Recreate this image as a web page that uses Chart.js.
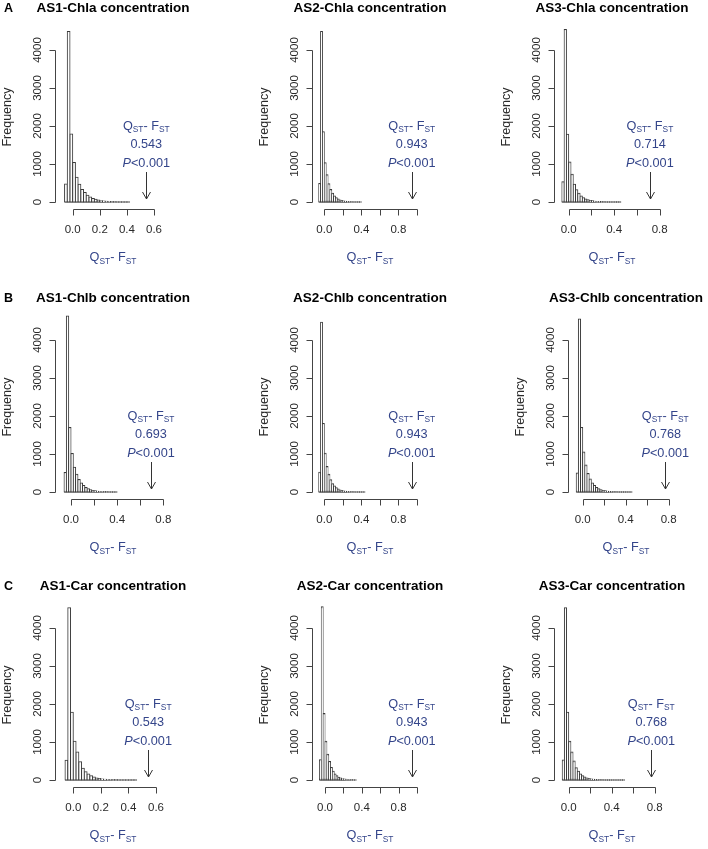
<!DOCTYPE html>
<html>
<head>
<meta charset="utf-8">
<script src="https://cdn.jsdelivr.net/npm/chart.js@4.4.1/dist/chart.umd.min.js"></script>
<style>
  html, body { margin: 0; padding: 0; background: #fff; }
  body { width: 708px; height: 849px; position: relative; overflow: hidden; }
  canvas { position: absolute; }
</style>
</head>
<body>
<script>
// ---- data ----
const titles = [
  'AS1-Chla concentration', 'AS2-Chla concentration', 'AS3-Chla concentration',
  'AS1-Chlb concentration', 'AS2-Chlb concentration', 'AS3-Chlb concentration',
  'AS1-Car concentration', 'AS2-Car concentration', 'AS3-Car concentration',
];
const rowLetters = ['A', 'B', 'C'];

// histogram bins: first bin starts at -0.06, each bin 0.02 wide
const binStart = -0.06;
const binWidth = 0.02;

const countsAS1Chla = [474, 4490, 1790, 1040, 650, 470, 330, 250, 180, 130, 95, 70, 50, 35, 25, 18, 10, 6, 4, 3, 2, 1, 1, 1];
const countsAS2Chla = [490, 4490, 1850, 1030, 720, 480, 330, 230, 160, 115, 80, 55, 40, 28, 20, 13, 8, 5, 3, 2, 1, 1, 1];
const countsAS3Chla = [530, 4540, 1780, 1050, 730, 470, 320, 230, 160, 110, 80, 60, 40, 30, 20, 14, 10, 6, 4, 3, 2, 1, 1, 1, 1, 1];
const countsAS1Chlb = [510, 4630, 1700, 1010, 650, 470, 330, 240, 170, 120, 85, 60, 42, 30, 20, 14, 9, 6, 4, 3, 2, 1, 1];
const countsAS2Chlb = [520, 4470, 1800, 1020, 670, 470, 320, 220, 160, 110, 80, 55, 40, 28, 20, 14, 9, 6, 4, 3, 2, 1, 1, 1, 1];
const countsAS3Chlb = [500, 4550, 1700, 1050, 710, 490, 340, 240, 170, 120, 85, 60, 42, 30, 20, 14, 9, 6, 4, 3, 2, 1, 1, 1, 1, 1];
const countsAS1Car = [520, 4530, 1780, 1020, 740, 480, 310, 220, 160, 110, 80, 55, 40, 28, 20, 14, 9, 6, 4, 3, 2, 1, 1, 1, 1, 1];
const countsAS2Car = [530, 4560, 1750, 1020, 680, 490, 330, 230, 160, 110, 75, 52, 36, 25, 17, 11, 7, 4, 2, 1];
const countsAS3Car = [525, 4530, 1780, 1020, 740, 500, 320, 230, 160, 110, 80, 55, 40, 28, 20, 14, 9, 6, 4, 3, 2, 1, 1, 1, 1, 1, 1, 1, 1];

// observed QST - FST (arrow positions)
const observed = [0.543, 0.943, 0.714, 0.693, 0.943, 0.768, 0.543, 0.943, 0.768];

const yTicks = [0, 1000, 2000, 3000, 4000];
const xTicks06 = [0, 0.2, 0.4, 0.6];
const xTicks08 = [0, 0.2, 0.4, 0.6, 0.8];
const xTicks10 = [0, 0.2, 0.4, 0.6, 0.8, 1.0];
const xLabelsAll = [0, 0.2, 0.4, 0.6];
const xLabelsEvery2 = [0, 0.4, 0.8];

// ---- layout (pixels in the page) ----
// ax: x of the y axis line, y0: pixel of count 0, x0: pixel of value 0.0, ppu: px per unit
const panelLayout = [
  { ax: 55, y0: 202, x0: 72.7, ppu: 135.5 },
  { ax: 312, y0: 202, x0: 324.3, ppu: 92.7 },
  { ax: 554, y0: 202, x0: 568.7, ppu: 113.75 },
  { ax: 55, y0: 492, x0: 71, ppu: 115.4 },
  { ax: 312, y0: 492, x0: 324.3, ppu: 92.7 },
  { ax: 568, y0: 492, x0: 582.7, ppu: 107.5 },
  { ax: 55, y0: 780, x0: 73.3, ppu: 137.8 },
  { ax: 312, y0: 780, x0: 325, ppu: 92 },
  { ax: 554, y0: 780, x0: 568.7, ppu: 107.5 },
];

const panelCounts = [countsAS1Chla, countsAS2Chla, countsAS3Chla, countsAS1Chlb, countsAS2Chlb, countsAS3Chlb, countsAS1Car, countsAS2Car, countsAS3Car];
const panelTicks = [xTicks06, xTicks10, xTicks08, xTicks08, xTicks10, xTicks08, xTicks06, xTicks10, xTicks08];
const panelLabels = [xLabelsAll, xLabelsEvery2, xLabelsEvery2, xLabelsEvery2, xLabelsEvery2, xLabelsEvery2, xLabelsAll, xLabelsEvery2, xLabelsEvery2];

const CW = 236, CH = 289;
const AREA_W = 114;
const Y_MIN = -190, Y_MAX = 4690, Y_PX = 0.038;
const FONT = '"Liberation Sans", Arial, Helvetica, sans-serif';
const BLUE = '#34458a';
const AXIS = '#444';
const TXT = '#2a2a2a';

function drawQF(ctx, cx, cy, size) {
  const sub = size * 0.66;
  const parts = [['Q', size, 0], ['ST', sub, 0.3], ['- F', size, 0], ['ST', sub, 0.3]];
  let w = 0;
  parts.forEach((p) => { ctx.font = p[1] + 'px ' + FONT; w += ctx.measureText(p[0]).width; });
  let x = cx - w / 2;
  ctx.textAlign = 'left';
  ctx.textBaseline = 'middle';
  parts.forEach((p) => {
    ctx.font = p[1] + 'px ' + FONT;
    ctx.fillText(p[0], x, cy + p[2] * size);
    x += ctx.measureText(p[0]).width;
  });
}

const rAxes = {
  id: 'rAxes',
  afterDraw(chart, args, o) {
    const { ctx, chartArea: a, scales: { x, y } } = chart;
    const zy = y.getPixelForValue(0);
    const cx = a.left + 58;
    ctx.save();
    ctx.lineWidth = 1;
    ctx.strokeStyle = AXIS;
    ctx.fillStyle = TXT;

    // y axis
    const lx = Math.round(a.left) + 0.5;
    ctx.beginPath();
    ctx.moveTo(lx, Math.round(y.getPixelForValue(yTicks[0])) + 0.5);
    ctx.lineTo(lx, Math.round(y.getPixelForValue(yTicks[yTicks.length - 1])) + 0.5);
    yTicks.forEach((t) => {
      const py = Math.round(y.getPixelForValue(t)) + 0.5;
      ctx.moveTo(lx, py);
      ctx.lineTo(lx - 6, py);
    });
    ctx.stroke();
    ctx.font = '11.5px ' + FONT;
    ctx.textAlign = 'center';
    ctx.textBaseline = 'middle';
    yTicks.forEach((t) => {
      ctx.save();
      ctx.translate(a.left - 17.5, y.getPixelForValue(t));
      ctx.rotate(-Math.PI / 2);
      ctx.fillText(String(t), 0, 0);
      ctx.restore();
    });
    ctx.save();
    ctx.font = '12.5px ' + FONT;
    ctx.translate(a.left - 47, zy - 85);
    ctx.rotate(-Math.PI / 2);
    ctx.fillText('Frequency', 0, 0);
    ctx.restore();

    // x axis
    const by = Math.round(a.bottom) + 0.5;
    ctx.beginPath();
    ctx.moveTo(Math.round(x.getPixelForValue(o.ticks[0])) + 0.5, by);
    ctx.lineTo(Math.round(x.getPixelForValue(o.ticks[o.ticks.length - 1])) + 0.5, by);
    o.ticks.forEach((t) => {
      const px = Math.round(x.getPixelForValue(t)) + 0.5;
      ctx.moveTo(px, by);
      ctx.lineTo(px, by + 6);
    });
    ctx.stroke();
    ctx.font = '11.5px ' + FONT;
    o.labels.forEach((t) => {
      ctx.fillText(t.toFixed(1), x.getPixelForValue(t), zy + 28.3);
    });

    // title and row letter
    ctx.fillStyle = '#000';
    ctx.font = 'bold 13.5px ' + FONT;
    ctx.fillText(o.title, cx, zy - 193.5);
    if (o.letter) {
      ctx.textAlign = 'left';
      ctx.font = 'bold 12.5px ' + FONT;
      ctx.fillText(o.letter, 4 - chart.canvas.offsetLeft, zy - 193.5);
    }

    // x label
    ctx.fillStyle = BLUE;
    drawQF(ctx, cx, zy + 55.5, 12.7);

    // annotation + arrow
    const ox = x.getPixelForValue(o.obs);
    drawQF(ctx, ox, zy - 76, 12.7);
    ctx.textAlign = 'center';
    ctx.font = '12.7px ' + FONT;
    ctx.fillText(o.obs.toFixed(3), ox, zy - 57.5);
    ctx.font = 'italic 12.7px ' + FONT;
    const pw = ctx.measureText('P').width;
    ctx.font = '12.7px ' + FONT;
    const rw = ctx.measureText('<0.001').width;
    const sx = ox - (pw + rw) / 2;
    ctx.textAlign = 'left';
    ctx.font = 'italic 12.7px ' + FONT;
    ctx.fillText('P', sx, zy - 39);
    ctx.font = '12.7px ' + FONT;
    ctx.fillText('<0.001', sx + pw, zy - 39);

    const ax = Math.round(ox) + 0.5;
    ctx.strokeStyle = '#333';
    ctx.beginPath();
    ctx.moveTo(ax, zy - 30);
    ctx.lineTo(ax, zy - 3);
    ctx.moveTo(ax - 4, zy - 10);
    ctx.lineTo(ax, zy - 3);
    ctx.lineTo(ax + 4, zy - 10);
    ctx.stroke();
    ctx.restore();
  },
};

panelLayout.forEach((L, i) => {
  const counts = panelCounts[i];
  const left = L.ax - 55;
  const top = L.y0 - 202;
  const canvas = document.createElement('canvas');
  canvas.width = CW;
  canvas.height = CH;
  canvas.style.left = left + 'px';
  canvas.style.top = top + 'px';
  document.body.appendChild(canvas);

  const xMin = (L.ax - L.x0) / L.ppu;
  const xMax = xMin + AREA_W / L.ppu;
  const areaH = (Y_MAX - Y_MIN) * Y_PX;
  const padTop = (L.y0 - Y_MAX * Y_PX) - top;
  const padBottom = CH - (padTop + areaH);

  const bars = counts.map((c, k) => ({ x: binStart + (k + 0.5) * binWidth, y: c }));
  const binEnd = binStart + counts.length * binWidth;

  new Chart(canvas, {
    data: {
      datasets: [
        {
          type: 'bar',
          data: bars,
          backgroundColor: '#fff',
          borderColor: '#3a3a3a',
          borderSkipped: false,
          borderWidth: 1,
          barPercentage: 1,
          categoryPercentage: 1,
          // grow each rectangle half a pixel so neighbouring outlines overlap like R's rect()
          inflateAmount: 0.5,
        },
        {
          type: 'line',
          data: [{ x: binStart, y: 0 }, { x: binEnd, y: 0 }],
          borderColor: '#3a3a3a',
          borderWidth: 1,
          pointRadius: 0,
        },
      ],
    },
    options: {
      responsive: false,
      animation: false,
      devicePixelRatio: 1,
      layout: { padding: { left: 55, right: CW - 55 - AREA_W, top: padTop, bottom: padBottom } },
      scales: {
        x: { type: 'linear', min: xMin, max: xMax, offset: false, display: false },
        y: { type: 'linear', min: Y_MIN, max: Y_MAX, display: false },
      },
      plugins: {
        legend: { display: false },
        tooltip: { enabled: false },
        rAxes: {
          title: titles[i],
          letter: i % 3 === 0 ? rowLetters[i / 3] : null,
          obs: observed[i],
          ticks: panelTicks[i],
          labels: panelLabels[i],
        },
      },
    },
    plugins: [rAxes],
  });
});
</script>
</body>
</html>
